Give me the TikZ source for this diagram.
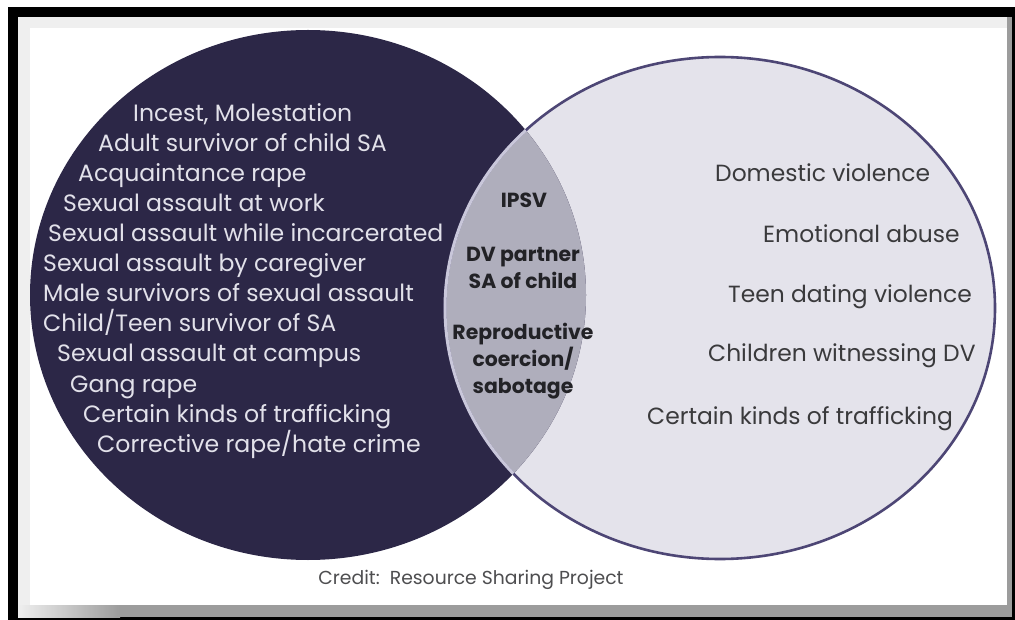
\documentclass[tikz,border=0pt]{standalone}
\usepackage{fontspec}
\setmainfont{Poppins}
\definecolor{navy}{HTML}{2C2747}
\definecolor{lightfill}{HTML}{E4E3EB}
\definecolor{lensfill}{HTML}{AFAEBC}
\definecolor{ringdark}{HTML}{4D4675}
\definecolor{ringlight}{HTML}{C9C7DA}
\definecolor{lefttext}{HTML}{E2E1EA}
\definecolor{righttext}{HTML}{3A3A3C}
\definecolor{lenstext}{HTML}{222226}
\definecolor{stripgray}{HTML}{EFEFEF}
\definecolor{shadowgray}{HTML}{9C9C9C}
\begin{document}
\begin{tikzpicture}[x=1pt,y=-1pt,
  lefttxt/.style={anchor=west,inner sep=0pt,text height=18pt,text depth=4pt,text=lefttext,font=\fontsize{23.6}{24}\selectfont},
  righttxt/.style={anchor=west,inner sep=0pt,text height=18pt,text depth=4pt,text=righttext,font=\fontsize{23.4}{24}\selectfont},
  lenstxt/.style={inner sep=0pt,align=center,text=lenstext,font=\fontsize{20.4}{27}\selectfont\bfseries},
  credittxt/.style={inner sep=0pt,text=righttext!90,font=\fontsize{18.8}{19}\selectfont}]
\useasboundingbox (0,0) rectangle (1015,620);
% frame
\fill[white] (0,0) rectangle (1015,620);
\fill[black] (8,7) rectangle (1015,620);
\fill[white] (18,17) rectangle (1007,605);
\fill[stripgray] (18,17) rectangle (1007,28);
\fill[stripgray] (18,17) rectangle (30,605);
\fill[shadowgray] (1007,17) rectangle (1012,617);
\shade[left color=stripgray,right color=shadowgray] (18,605) rectangle (120,617);
\fill[shadowgray] (120,605) rectangle (1012,617);
% circles
\fill[lightfill] (720,308) ellipse [x radius=275,y radius=251];
\fill[navy] (308,295) ellipse [x radius=278,y radius=265];
\begin{scope}
  \clip (720,308) ellipse [x radius=275,y radius=251];
  \fill[lensfill] (308,295) ellipse [x radius=278,y radius=265];
\end{scope}
\draw[ringdark,line width=2.6pt] (720,308) ellipse [x radius=275,y radius=251];
\begin{scope}
  \clip (308,295) ellipse [x radius=278,y radius=265];
  \draw[ringlight,line width=3pt] (720,308) ellipse [x radius=275,y radius=251];
\end{scope}
% left texts
\node[lefttxt] (l1) at (133,115) {Incest, Molestation};
\node[lefttxt] (l2) at (98,145) {Adult survivor of child SA};
\node[lefttxt] (l3) at (78,175) {Acquaintance rape};
\node[lefttxt] (l4) at (63,205) {Sexual assault at work};
\node[lefttxt] (l5) at (48,235) {Sexual assault while incarcerated};
\node[lefttxt] (l6) at (43,265) {Sexual assault by caregiver};
\node[lefttxt] (l7) at (43,295) {Male survivors of sexual assault};
\node[lefttxt] (l8) at (43,325) {Child/Teen survivor of SA};
\node[lefttxt] (l9) at (57,355) {Sexual assault at campus};
\node[lefttxt] (l10) at (70,385) {Gang rape};
\node[lefttxt] (l11) at (83,415) {Certain kinds of trafficking};
\node[lefttxt] (l12) at (97,445) {Corrective rape/hate crime};
% lens texts
\node[lenstxt] (c1) at (524,200) {IPSV};
\node[lenstxt] (c2) at (523,268) {DV partner\\SA of child};
\node[lenstxt] (c3) at (523,361) {Reproductive\\coercion/\\sabotage};
% right texts
\node[righttxt] (r1) at (715,175) {Domestic violence};
\node[righttxt] (r2) at (763,236) {Emotional abuse};
\node[righttxt] (r3) at (728,296) {Teen dating violence};
\node[righttxt] (r4) at (708,355) {Children witnessing DV};
\node[righttxt] (r5) at (647,417) {Certain kinds of trafficking};
% credit
\node[credittxt] (credit) at (471,580) {Credit:\ \ Resource Sharing Project};
\end{tikzpicture}
\end{document}
